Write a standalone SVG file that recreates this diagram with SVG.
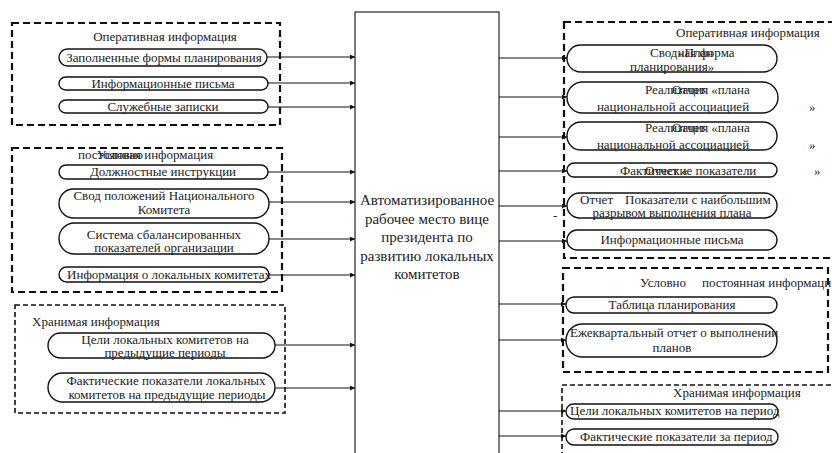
<svg xmlns="http://www.w3.org/2000/svg" width="832" height="453" viewBox="0 0 832 453">
<defs>
<style>
text{font-family:"Liberation Serif","Times New Roman",serif;font-size:13px;fill:#222}
.c{text-anchor:middle}
.big{font-size:15px}
.pill{fill:#fff;stroke:#111;stroke-width:1.4}
.grp{fill:none;stroke:#111;stroke-width:2.2;stroke-dasharray:7 4}
.grp2{fill:none;stroke:#111;stroke-width:1.6;stroke-dasharray:5 3}
.ln{stroke:#111;stroke-width:1.1;fill:none;marker-end:url(#ah)}
</style>
<marker id="ah" viewBox="0 0 10 10" refX="10" refY="5" markerWidth="7" markerHeight="5" orient="auto" markerUnits="userSpaceOnUse"><path d="M0,0L10,5L0,10z" fill="#111"/></marker>
</defs>
<rect width="832" height="453" fill="#fff"/>

<g id="center">
<rect x="355" y="12" width="144" height="450" fill="#fff" stroke="#111" stroke-width="1.1"/>
<text class="c big" x="427" y="205">Автоматизированное</text>
<text class="c big" x="427" y="223.5">рабочее место вице</text>
<text class="c big" x="427" y="242">президента по</text>
<text class="c big" x="427" y="260.5">развитию локальных</text>
<text class="c big" x="427" y="279">комитетов</text>
</g>

<g id="connectors">
<line class="ln" x1="267" y1="57" x2="355" y2="57"/>
<line class="ln" x1="268" y1="83" x2="355" y2="83"/>
<line class="ln" x1="268" y1="107" x2="355" y2="107"/>
<line class="ln" x1="268" y1="172" x2="355" y2="172"/>
<line class="ln" x1="269" y1="202" x2="355" y2="202"/>
<line class="ln" x1="269" y1="239" x2="355" y2="239"/>
<line class="ln" x1="269" y1="275" x2="355" y2="275"/>
<line class="ln" x1="275" y1="345" x2="355" y2="345"/>
<line class="ln" x1="275" y1="388" x2="355" y2="388"/>
<line class="ln" x1="499" y1="58" x2="567" y2="58"/>
<line class="ln" x1="499" y1="97" x2="567" y2="97"/>
<line class="ln" x1="499" y1="137" x2="567" y2="137"/>
<line class="ln" x1="499" y1="171" x2="567" y2="171"/>
<line class="ln" x1="499" y1="206" x2="567" y2="206"/>
<line class="ln" x1="499" y1="241" x2="567" y2="241"/>
<line class="ln" x1="499" y1="304" x2="566" y2="304"/>
<line class="ln" x1="499" y1="340" x2="566" y2="340"/>
<line class="ln" x1="499" y1="411" x2="566" y2="411"/>
<line class="ln" x1="499" y1="436" x2="566" y2="436"/>
</g>

<g id="left-operative">
<rect class="grp" x="12" y="23" width="268" height="102"/>
<text class="c" x="165" y="41">Оперативная информация</text>
</g>
<g id="l1"><rect class="pill" x="59" y="49" width="208" height="17" rx="8.5"/><text class="c" x="164" y="62">Заполненные формы планирования</text></g>
<g id="l2"><rect class="pill" x="59" y="77" width="209" height="13" rx="6.5"/><text class="c" x="163" y="88">Информационные письма</text></g>
<g id="l3"><rect class="pill" x="59" y="100" width="209" height="13" rx="6.5"/><text class="c" x="163" y="111">Служебные записки</text></g>

<g id="left-semiconst">
<rect class="grp" x="12" y="148" width="270" height="144"/>
<text x="78" y="159">постоянная информация</text>
<text x="97" y="159">Условно</text>
</g>
<g id="l4"><rect class="pill" x="59" y="165" width="209" height="14" rx="7"/><text class="c" x="163" y="176">Должностные инструкции</text></g>
<g id="l5"><rect class="pill" x="59" y="189" width="210" height="29" rx="14.5"/><text class="c" x="164" y="200">Свод положений Национального</text><text class="c" x="164" y="214">Комитета</text></g>
<g id="l6"><rect class="pill" x="59" y="223" width="210" height="31" rx="15.5"/><text class="c" x="164" y="239">Система сбалансированных</text><text class="c" x="164" y="252">показателей организации</text></g>
<g id="l7"><rect class="pill" x="59" y="267" width="210" height="15" rx="7.5"/><text class="c" x="169" y="279">Информация о локальных комитетах</text></g>

<g id="left-stored">
<rect class="grp2" x="15" y="305" width="270" height="108"/>
<text x="32" y="326">Хранимая информация</text>
</g>
<g id="l8"><rect class="pill" x="48" y="333" width="227" height="25" rx="12.5"/><text class="c" x="165" y="344">Цели локальных комитетов на</text><text class="c" x="165" y="357">предыдущие периоды</text></g>
<g id="l9"><rect class="pill" x="48" y="373" width="227" height="29" rx="14.5"/><text class="c" x="166" y="385">Фактические показатели локальных</text><text class="c" x="167" y="399">комитетов на предыдущие периоды</text></g>

<g id="right-operative">
<rect class="grp" x="564" y="22" width="290" height="236"/>
<text x="676" y="37">Оперативная информация</text>
<text x="553" y="220">-</text>
</g>
<g id="r1"><rect class="pill" x="567" y="45" width="210" height="27" rx="13.5"/><text x="650" y="57">Сводная форма</text><text x="678" y="57">«План</text><text x="630" y="71">планирования»</text></g>
<g id="r2"><rect class="pill" x="567" y="82" width="211" height="31" rx="15.5"/><text x="645" y="94">Реализация «плана</text><text x="672" y="94">Отчет</text><text class="c" x="673" y="111">национальной ассоциацией</text><text x="809" y="111">»</text></g>
<g id="r3"><rect class="pill" x="567" y="122" width="210" height="28" rx="14"/><text x="645" y="132">Реализация «плана</text><text x="672" y="132">Отчет</text><text class="c" x="673" y="149">национальной ассоциацией</text><text x="809" y="149">»</text></g>
<g id="r4"><rect class="pill" x="567" y="163" width="210" height="14" rx="7"/><text x="620" y="175">Фактические показатели</text><text x="645" y="175">Отчет «</text><text x="814" y="175">»</text></g>
<g id="r5"><rect class="pill" x="567" y="193" width="210" height="25" rx="12.5"/><text x="580" y="204">Отчет</text><text x="625" y="204">Показатели с наибольшим</text><text class="c" x="672" y="217">разрывом выполнения плана</text></g>
<g id="r6"><rect class="pill" x="567" y="230" width="210" height="20" rx="10"/><text class="c" x="672" y="244">Информационные письма</text></g>

<g id="right-semiconst">
<rect class="grp" x="563" y="268" width="265" height="104"/>
<text x="640" y="287">Условно</text>
<text x="702" y="287">постоянная информаци</text>
</g>
<g id="r7"><rect class="pill" x="566" y="297" width="211" height="16" rx="8"/><text class="c" x="672" y="309">Таблица планирования</text></g>
<g id="r8"><rect class="pill" x="566" y="324" width="211" height="33" rx="16.5"/><text x="570" y="337">Ежеквартальный отчет о выполнении</text><text class="c" x="672" y="352">планов</text></g>

<g id="right-stored">
<rect class="grp2" x="562" y="385" width="290" height="90"/>
<text x="673" y="397">Хранимая информация</text>
</g>
<g id="r9"><rect class="pill" x="566" y="404" width="212" height="15" rx="7.5"/><text x="570" y="415">Цели локальных комитетов на период</text></g>
<g id="r10"><rect class="pill" x="566" y="429" width="212" height="16" rx="8"/><text x="580" y="441">Фактические показатели за период</text></g>
</svg>
